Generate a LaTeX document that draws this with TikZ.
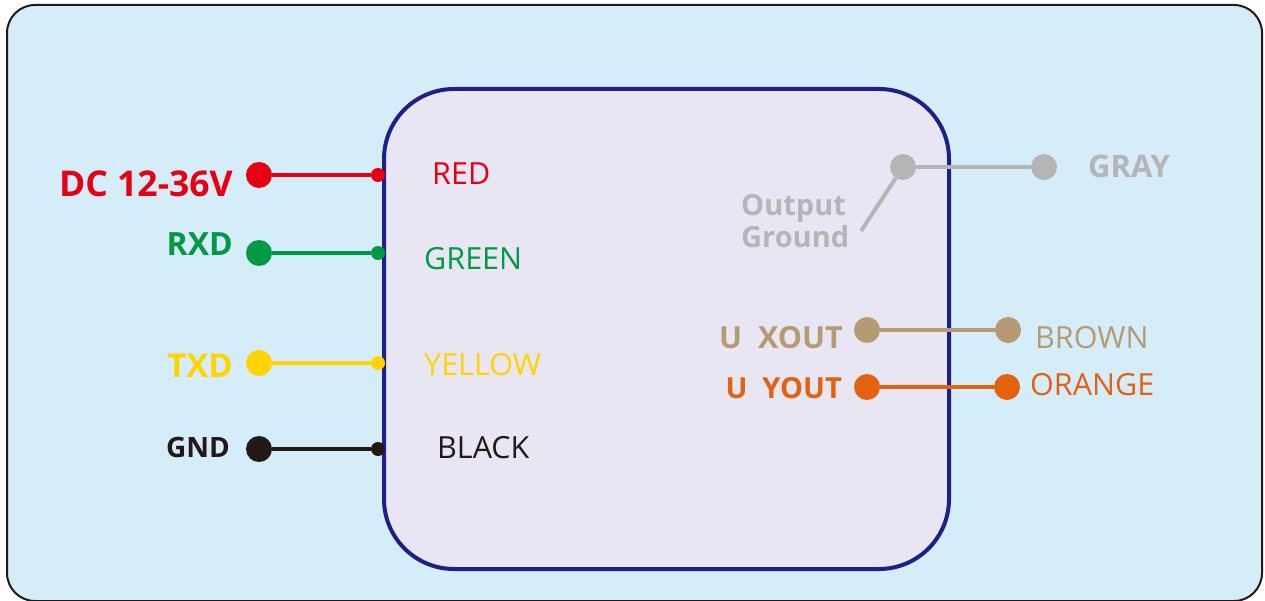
\documentclass[tikz,border=0pt]{standalone}
\usepackage{fontspec}
\setmainfont{Open Sans}
\definecolor{bgblue}{RGB}{213,236,249}
\definecolor{boxfill}{RGB}{232,230,243}
\definecolor{boxline}{RGB}{29,32,136}
\definecolor{wred}{RGB}{230,0,18}
\definecolor{wgreen}{RGB}{0,153,68}
\definecolor{wyellow}{RGB}{255,212,0}
\definecolor{wblack}{RGB}{35,24,21}
\definecolor{wgray}{RGB}{181,181,181}
\definecolor{wbrown}{RGB}{180,155,118}
\definecolor{worange}{RGB}{228,98,15}

\tikzstyle{pin}=[circle,minimum size=26pt,inner sep=0pt]
\tikzstyle{tip}=[circle,minimum size=14pt,inner sep=0pt]
\tikzstyle{wire}=[line width=4pt]
\tikzstyle{tag}=[inner sep=0pt,font=\bfseries\fontsize{32}{34}\selectfont]
\tikzstyle{colour}=[inner sep=0pt,anchor=base west,font=\fontsize{30.5}{34}\selectfont]

\begin{document}
\begin{tikzpicture}[x=1pt,y=-1pt]
		\useasboundingbox (0,0) rectangle (1265,601);
		\draw[fill=bgblue,draw=wblack,line width=2pt,rounded corners=28pt] (7,5) rectangle (1262,601);
		\draw[fill=boxfill,draw=boxline,line width=4pt,rounded corners=70pt] (384,89) rectangle (949,569);
		% Left side wires
		\node[pin,fill=wred] (red) at (259,175) {};
		\node[tip,fill=wred] (redin) at (378,175) {};
		\node[pin,fill=wgreen] (green) at (259,253) {};
		\node[tip,fill=wgreen] (greenin) at (378,253) {};
		\node[pin,fill=wyellow] (yellow) at (259,363) {};
		\node[tip,fill=wyellow] (yellowin) at (378,363) {};
		\node[pin,fill=wblack] (black) at (259,449) {};
		\node[tip,fill=wblack] (blackin) at (378,449) {};
		\draw[wire,wred] (red) -- (redin);
		\draw[wire,wgreen] (green) -- (greenin);
		\draw[wire,wyellow] (yellow) -- (yellowin);
		\draw[wire,wblack] (black) -- (blackin);
		\node[tag,anchor=base east,text=wred,font=\bfseries\fontsize{35.5}{38}\selectfont] (dc) at (233,197) {DC 12-36V};
		\node[tag,anchor=base east,text=wgreen] (rxd) at (233,256) {RXD};
		\node[tag,anchor=base east,text=wyellow,font=\bfseries\fontsize{33}{36}\selectfont] (txd) at (233,377) {TXD};
		\node[tag,anchor=base east,text=wblack,font=\bfseries\fontsize{28}{30}\selectfont] (gnd) at (230,457) {GND};
		\node[colour,text=wred] (redtxt) at (432,185) {RED};
		\node[colour,text=wgreen] (greentxt) at (424,270) {GREEN};
		\node[colour,text=wyellow] (yellowtxt) at (424,375) {YELLOW};
		\node[colour,text=wblack] (blacktxt) at (437,458) {BLACK};
		% Right side wires
		\node[pin,fill=wgray] (gray) at (903,167) {};
		\node[pin,fill=wgray] (grayout) at (1044,167) {};
		\coordinate (grnd) at (861,231);
		\draw[wire,wgray] (gray) -- (grayout);
		\draw[wire,wgray] (gray) -- (grnd);
		\node[pin,fill=wbrown] (brown) at (867,330) {};
		\node[pin,fill=wbrown] (brownout) at (1008,330) {};
		\draw[wire,wbrown] (brown) -- (brownout);
		\node[pin,fill=worange] (orange) at (867,387) {};
		\node[pin,fill=worange] (orangeout) at (1007,387) {};
		\draw[wire,worange] (orange) -- (orangeout);
		\node[tag,anchor=base west,text=wgray,font=\bfseries\fontsize{31}{33}\selectfont] (graytxt) at (1088,178) {GRAY};
		\node[tag,anchor=west,text=wgray,align=left,font=\bfseries\fontsize{29}{32}\selectfont] (outgnd) at (741,221) {Output\\Ground};
		\node[tag,anchor=base east,text=wbrown,font=\bfseries\fontsize{30.5}{33}\selectfont] (xout) at (843,348) {U\ \ XOUT};
		\node[tag,anchor=base east,text=worange,font=\bfseries\fontsize{29}{31}\selectfont] (yout) at (842,398) {U\ \ YOUT};
		\node[colour,text=wbrown] (browntxt) at (1035,348) {BROWN};
		\node[colour,text=worange] (orangetxt) at (1030,395) {ORANGE};
\end{tikzpicture}
\end{document}
